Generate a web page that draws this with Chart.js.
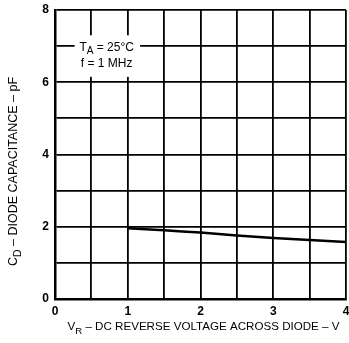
<!DOCTYPE html>
<html>
<head>
<meta charset="utf-8">
<script src="https://cdn.jsdelivr.net/npm/chart.js@4/dist/chart.umd.min.js"></script>
<style>
  html, body { margin: 0; padding: 0; background: #fff; }
  #wrap { width: 349px; height: 343px; }
</style>
</head>
<body>
<div id="wrap"><canvas id="diodeChart" width="349" height="343"></canvas></div>
<script>
// reverse voltage (V) and diode capacitance (pF)
var voltage = [1, 1.5, 2, 2.5, 3, 3.5, 4];
var capacitance = [1.96, 1.90, 1.84, 1.76, 1.69, 1.63, 1.58];

var xTickLabels = ['0', '1', '2', '3', '4'];
var yTickLabels = ['0', '2', '4', '6', '8'];

var noteLines = [['T', 'A', ' = 25°C'], ['f = 1 MHz', '', '']];

var FONT = '"Liberation Sans", Arial, sans-serif';

// draws text with a subscript part: [main, sub, rest]
function drawSubText(ctx, parts, x, y, size, align) {
    ctx.font = size + 'px ' + FONT;
    var w1 = ctx.measureText(parts[0]).width;
    ctx.font = (size - 2) + 'px ' + FONT;
    var w2 = ctx.measureText(parts[1]).width;
    ctx.font = size + 'px ' + FONT;
    var w3 = ctx.measureText(parts[2]).width;
    var total = w1 + w2 + w3;
    var sx = align === 'center' ? x - total / 2 : x;
    ctx.textAlign = 'left';
    ctx.textBaseline = 'middle';
    ctx.fillText(parts[0], sx, y);
    ctx.font = (size - 2) + 'px ' + FONT;
    ctx.fillText(parts[1], sx + w1, y + 4);
    ctx.font = size + 'px ' + FONT;
    ctx.fillText(parts[2], sx + w1 + w2, y);
    return total;
}

var annotations = {
    id: 'annotations',
    afterDraw: function (chart) {
        var ctx = chart.ctx;
        var area = chart.chartArea;
        var xs = chart.scales.x, ys = chart.scales.y;
        ctx.save();

        // condition box
        var bx = xs.getPixelForValue(0.27), by = ys.getPixelForValue(7.3);
        ctx.fillStyle = '#fff';
        ctx.fillRect(bx, by, xs.getPixelForValue(1.17) - bx, ys.getPixelForValue(6.15) - by);
        ctx.fillStyle = '#000';
        var cx = xs.getPixelForValue(0.71);
        drawSubText(ctx, noteLines[0], cx, ys.getPixelForValue(6.97), 12, 'center');
        drawSubText(ctx, noteLines[1], cx, ys.getPixelForValue(6.52), 12, 'center');

        // x axis title
        drawSubText(ctx, ['V', 'R', ' – DC REVERSE VOLTAGE ACROSS DIODE – V'],
            (area.left + area.right) / 2 + 3, 327, 11.6, 'center');

        // y axis title
        ctx.translate(14, (area.top + area.bottom) / 2 + 17);
        ctx.rotate(-Math.PI / 2);
        drawSubText(ctx, ['C', 'D', ' – DIODE CAPACITANCE – pF'], 0, 0, 12.5, 'center');
        ctx.restore();
    }
};

var ctx = document.getElementById('diodeChart');
var chart = new Chart(ctx, {
    type: 'line',
    data: {
        datasets: [{
            data: voltage.map(function (v, i) { return { x: v, y: capacitance[i] }; }),
            borderColor: '#000',
            borderWidth: 2.5,
            pointRadius: 0,
            tension: 0.3,
            fill: false
        }]
    },
    options: {
        responsive: false,
        animation: false,
        layout: { padding: { top: 10, right: 0, left: 0, bottom: 0 } },
        plugins: {
            legend: { display: false },
            tooltip: { enabled: false }
        },
        scales: {
            x: {
                type: 'linear',
                min: 0,
                max: 4,
                afterFit: function (scale) {
                    scale.height = 44;
                    scale.paddingRight = 3;
                },
                grid: { color: '#000', lineWidth: 1.8, drawTicks: false },
                border: { color: '#000', width: 2.5 },
                ticks: {
                    stepSize: 0.5,
                    padding: 5,
                    maxRotation: 0,
                    color: '#000',
                    font: { family: FONT, size: 12, weight: 'bold' },
                    callback: function (value) {
                        return Number.isInteger(value) ? xTickLabels[value] : '';
                    }
                }
            },
            y: {
                min: 0,
                max: 8,
                afterFit: function (scale) {
                    scale.width = 55;
                    scale.paddingTop = 0;
                },
                grid: { color: '#000', lineWidth: 1.8, drawTicks: false },
                border: { color: '#000', width: 2.5 },
                ticks: {
                    stepSize: 1,
                    padding: 6,
                    color: '#000',
                    font: { family: FONT, size: 12, weight: 'bold' },
                    callback: function (value) {
                        return value % 2 === 0 ? yTickLabels[value / 2] : '';
                    }
                }
            }
        }
    },
    plugins: [annotations]
});
</script>
</body>
</html>
